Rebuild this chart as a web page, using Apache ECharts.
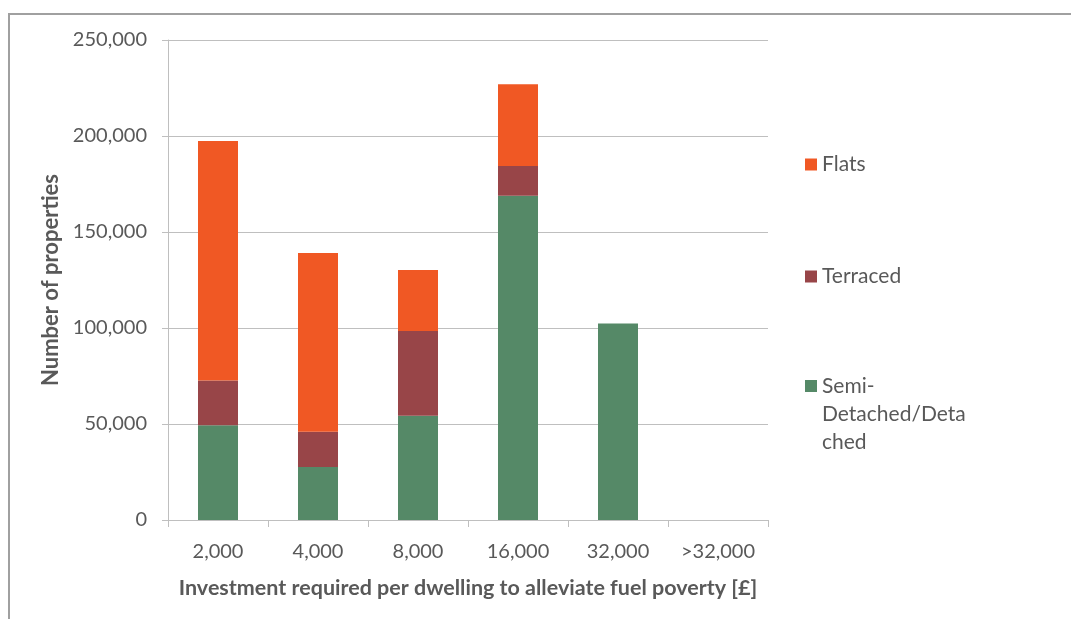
<!DOCTYPE html>
<html>
<head>
<meta charset="utf-8">
<script src="https://cdn.jsdelivr.net/npm/echarts@6/dist/echarts.min.js"></script>
<style>
  html, body { margin: 0; padding: 0; background: #fff; }
  #chart { width: 1071px; height: 619px; }
</style>
</head>
<body>
<div id="chart"></div>
<script>
const categories = ["2,000", "4,000", "8,000", "16,000", "32,000", ">32,000"];
const semiDetached = [49300, 27600, 54300, 168900, 102400, 0];
const terraced = [23300, 18400, 44100, 15500, 0, 0];
const flats = [124800, 93000, 31800, 42600, 0, 0];

const FONT = "Lato, 'Open Sans', sans-serif";
const TEXT_COLOR = "#595959";
const colors = { flats: "#F05824", terraced: "#984548", semi: "#558967" };

const chart = echarts.init(document.getElementById("chart"));

function legendFor(name, top, extra) {
  return Object.assign({
    orient: "vertical",
    left: 805,
    top: top,
    padding: 0,
    itemWidth: 12,
    itemHeight: 12,
    itemGap: 0,
    icon: "rect",
    selectedMode: false,
    data: [name],
    textStyle: { fontFamily: FONT, fontSize: 21, color: TEXT_COLOR },
  }, extra || {});
}

chart.setOption({
  animation: false,
  backgroundColor: "#fff",
  graphic: [
    {
      type: "rect",
      shape: { x: 9, y: 14, width: 1200, height: 800 },
      style: { fill: "none", stroke: "#a0a0a0", lineWidth: 2 },
      silent: true,
    },
  ],
  legend: [
    legendFor("Flats", 154),
    legendFor("Terraced", 266),
    // two blank lines first so the marker lines up with "Semi-"
    legendFor("Semi-Detached/Detached", 316, {
      formatter: () => "\n\nSemi-\nDetached/Deta\nched",
      textStyle: { fontFamily: FONT, fontSize: 21, color: TEXT_COLOR, lineHeight: 28 },
    }),
  ],
  grid: { left: 168, right: 303, top: 40, bottom: 99 },
  xAxis: {
    type: "category",
    data: categories,
    name: "Investment required per dwelling to alleviate fuel poverty [£]",
    nameLocation: "middle",
    nameGap: 57,
    nameTextStyle: { fontFamily: FONT, fontSize: 21.5, fontWeight: "bold", color: TEXT_COLOR },
    axisLine: { lineStyle: { color: "#bfbfbf", width: 1 } },
    axisTick: { show: true, length: 7, lineStyle: { color: "#bfbfbf" } },
    axisLabel: { fontFamily: FONT, fontSize: 20, color: TEXT_COLOR, margin: 22 },
  },
  yAxis: {
    type: "value",
    min: 0,
    max: 250000,
    interval: 50000,
    name: "Number of properties",
    nameLocation: "middle",
    nameGap: 101,
    nameTextStyle: { fontFamily: FONT, fontSize: 22, fontWeight: "bold", color: TEXT_COLOR },
    axisLine: { show: true, lineStyle: { color: "#bfbfbf", width: 1 } },
    axisTick: { show: true, length: 6, lineStyle: { color: "#bfbfbf" } },
    axisLabel: {
      fontFamily: FONT,
      fontSize: 20,
      color: TEXT_COLOR,
      margin: 21,
      formatter: (v) => v.toLocaleString("en-US"),
    },
    splitLine: { lineStyle: { color: "#bfbfbf", width: 1 } },
  },
  series: [
    {
      name: "Semi-Detached/Detached",
      type: "bar",
      stack: "total",
      barWidth: "40%",
      itemStyle: { color: colors.semi },
      data: semiDetached,
    },
    {
      name: "Terraced",
      type: "bar",
      stack: "total",
      barWidth: "40%",
      itemStyle: { color: colors.terraced },
      data: terraced,
    },
    {
      name: "Flats",
      type: "bar",
      stack: "total",
      barWidth: "40%",
      itemStyle: { color: colors.flats },
      data: flats,
    },
  ],
});
</script>
</body>
</html>
